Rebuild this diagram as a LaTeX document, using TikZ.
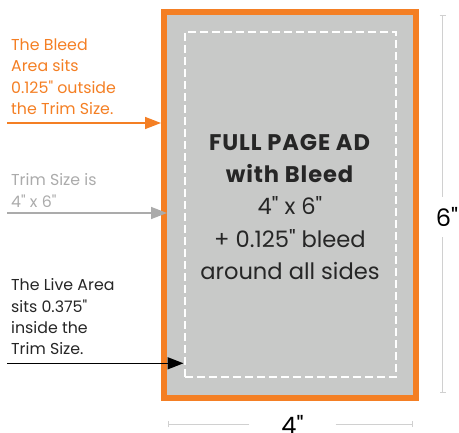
\documentclass[tikz,border=0pt]{standalone}
\usepackage{fontspec}
\setmainfont{Poppins}[Ligatures=TeXOff, BoldFeatures={LetterSpace=4}]
\usetikzlibrary{arrows.meta}

\definecolor{bleedorange}{HTML}{F47F24}
\definecolor{trimgray}{HTML}{C8C9C8}
\definecolor{notegray}{HTML}{ABABAB}
\definecolor{dimgray}{HTML}{D0D0D0}

\tikzset{
  note/.style={anchor=base west, align=left, inner sep=0pt, font=\fontsize{15.8}{21.4}\selectfont},
  pointer/.style={line width=1.5pt, -{Triangle[length=16pt, width=12pt]}},
  dimline/.style={dimgray, line width=1pt, -{Bar[width=6pt, line width=1pt]}},
  dimlabel/.style={inner sep=0pt, font=\fontsize{24}{24}\selectfont}
}

\begin{document}
\begin{tikzpicture}[x=1pt, y=-1pt]
          \useasboundingbox (0,0) rectangle (459,433);

          % Nodes for the ad page (bleed, trim and live area)
          \node[draw=bleedorange, line width=6pt, fill=trimgray, minimum width=252pt, minimum height=386pt, inner sep=0pt] (page) at (290,205) {};
          \node[draw=white, line width=2pt, dash pattern=on 8pt off 4pt, minimum width=211pt, minimum height=345pt, inner sep=0pt] (live) at (290.5,204.5) {};

          % Node for the text on the page (anchored at its last line)
          \node[anchor=base, align=center, inner sep=0pt, font=\fontsize{22.6}{32.5}\selectfont, text=black!85] (adtext) at (290,280)
            {\textbf{FULL PAGE AD}\\ \textbf{with Bleed}\\ 4" x 6"\\ + 0.125" bleed\\ around all sides};

          % Nodes for the notes on the left
          \node[note, text=bleedorange] (bleednote) at (11,114.7) {The Bleed\\ Area sits\\ 0.125" outside\\ the Trim Size.};
          \node[note, text=notegray] (trimnote) at (11,207.3) {Trim Size is\\ 4" x 6"};
          \node[note, text=black!85] (livenote) at (11,355) {The Live Area\\ sits 0.375"\\ inside the\\ Trim Size.};

          % Ends of the pointers
          \coordinate (bleedfrom) at (7,123);
          \coordinate (bleedto) at (161,123);
          \coordinate (trimfrom) at (7,213);
          \coordinate (trimto) at (167,213);
          \coordinate (livefrom) at (7,363.3);
          \coordinate (liveto) at (183.5,363.3);

          % Pointers
          \draw [pointer, bleedorange] (bleedfrom) -- (bleedto);
          \draw [pointer, notegray] (trimfrom) -- (trimto);
          \draw [pointer, black] (livefrom) -- (liveto);

          % Dimensions
          \node[dimlabel, minimum height=40pt] (six) at (447,217) {6"};
          \node[dimlabel, minimum width=86pt] (four) at (292.5,424.5) {4"};
          \coordinate (sixtop) at (442.5,15);
          \coordinate (sixbottom) at (442.5,393);
          \coordinate (fourleft) at (167.5,424.5);
          \coordinate (fourright) at (413,424.5);

          \draw [dimline] (sixtop |- six.north) -- (sixtop);
          \draw [dimline] (sixbottom |- six.south) -- (sixbottom);
          \draw [dimline] (four.west) -- (fourleft);
          \draw [dimline] (four.east) -- (fourright);
        \end{tikzpicture}
\end{document}
